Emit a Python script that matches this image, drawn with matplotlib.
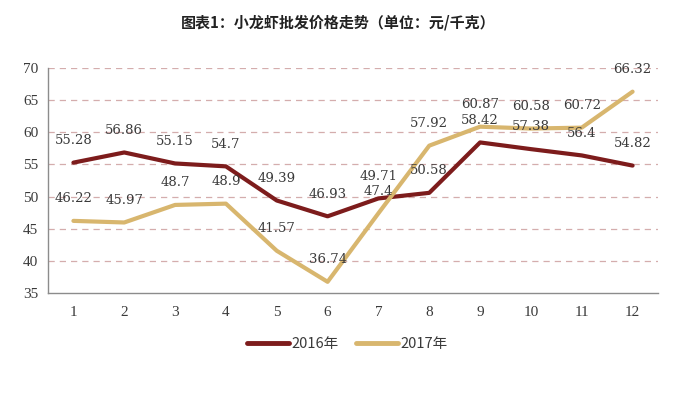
import matplotlib
matplotlib.use("Agg")
import matplotlib.pyplot as plt

months = [1, 2, 3, 4, 5, 6, 7, 8, 9, 10, 11, 12]
month_labels = [str(m) for m in months]
price_2016 = [55.28, 56.86, 55.15, 54.7, 49.39, 46.93, 49.71, 50.58, 58.42, 57.38, 56.4, 54.82]
price_2017 = [46.22, 45.97, 48.7, 48.9, 41.57, 36.74, 47.4, 57.92, 60.87, 60.58, 60.72, 66.32]
yticks = [35, 40, 45, 50, 55, 60, 65, 70]
series_names = ["2016年", "2017年"]
title = "图表1：小龙虾批发价格走势（单位：元/千克）"

c2016 = "#7d1c1c"
c2017 = "#d8b66e"
serif = ["Liberation Serif", "DejaVu Serif"]
label_font = ["DejaVu Serif"]

fig = plt.figure(figsize=(6.8, 4.03), dpi=100)
ax = fig.add_axes([48/680, 110/403, 610/680, 225/403])

ax.plot(months, price_2016, color=c2016, lw=3.0, solid_capstyle="round", zorder=3, label=series_names[0])
ax.plot(months, price_2017, color=c2017, lw=3.0, solid_capstyle="round", zorder=3, label=series_names[1])

for m, v in zip(months, price_2016):
    ax.annotate(f"{v:g}", (m, v), xytext=(0, 16), textcoords="offset points",
                ha="center", va="center", fontsize=9.5, color="#3a3a3a", family=label_font, zorder=4)
for m, v in zip(months, price_2017):
    ax.annotate(f"{v:g}", (m, v), xytext=(0, 16), textcoords="offset points",
                ha="center", va="center", fontsize=9.5, color="#3a3a3a", family=label_font, zorder=4)

ax.set_xlim(0.5, 12.5)
ax.set_ylim(35, 70)
ax.set_yticks(yticks)
ax.set_xticks(months)
ax.set_xticklabels(month_labels)
for y in yticks[1:]:
    ax.axhline(y, color="#d4adad", lw=0.9, ls=(0, (5, 4)), zorder=1)

for s in ["top", "right"]:
    ax.spines[s].set_visible(False)
for s in ["left", "bottom"]:
    ax.spines[s].set_color("#8c8c8c")
    ax.spines[s].set_linewidth(1.0)
ax.tick_params(length=0, labelsize=11, labelcolor="#3a3a3a")
ax.tick_params(axis="x", pad=9)
ax.tick_params(axis="y", pad=7)
for lab in ax.get_xticklabels() + ax.get_yticklabels():
    lab.set_family(serif)

fig.text(338/680, 1 - 22/403, title, ha="center", va="center", fontsize=10.8,
         fontweight="bold", family=["Noto Sans CJK SC", "DejaVu Sans"], color="#222222")

leg = fig.legend(loc="center", bbox_to_anchor=(347/680, 1 - 344/403), ncol=2, frameon=False,
                 prop={"family": ["Noto Sans CJK SC", "DejaVu Sans"], "size": 10.5},
                 handlelength=2.9, handletextpad=0.15, columnspacing=1.2)
for line in leg.get_lines():
    line.set_linewidth(3.5)
for t in leg.get_texts():
    t.set_color("#3a3a3a")

fig.savefig("out.png", dpi=100, facecolor="white")
